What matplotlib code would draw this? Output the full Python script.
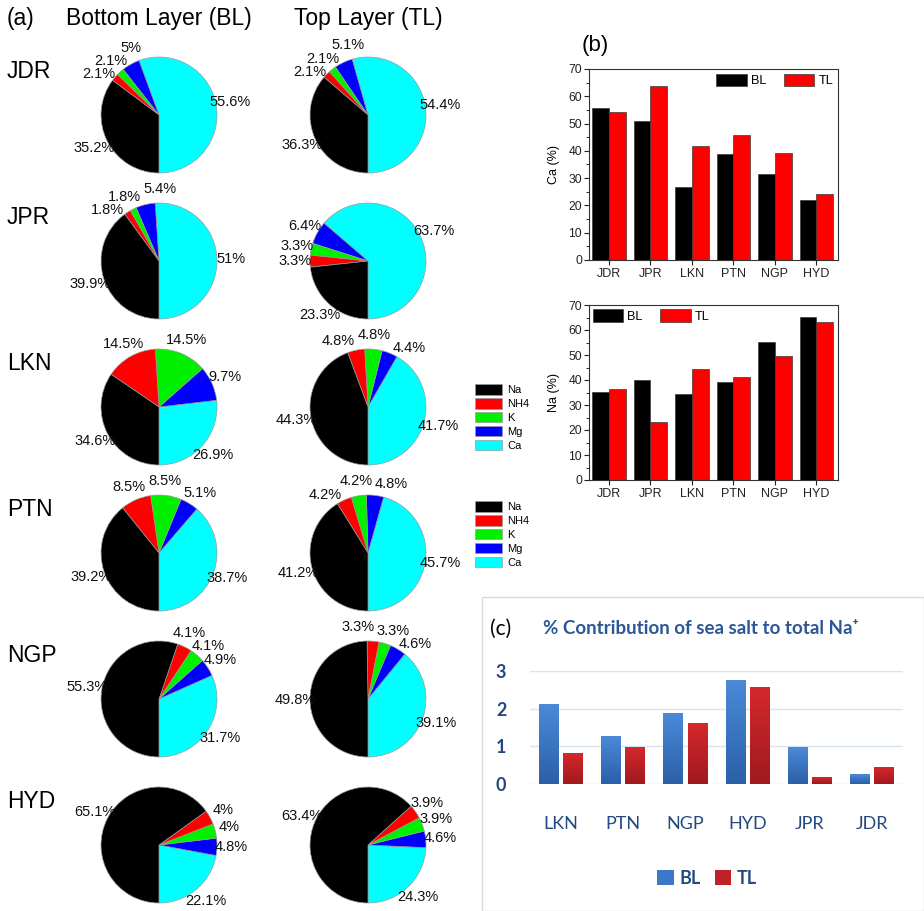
import numpy as np
import matplotlib
matplotlib.use("Agg")
import matplotlib.pyplot as plt
from matplotlib.patches import Patch, Rectangle
from matplotlib.colors import LinearSegmentedColormap

# ---------------- data ----------------
SITES = ["JDR", "JPR", "LKN", "PTN", "NGP", "HYD"]
IONS = ["Na", "NH4", "K", "Mg", "Ca"]
ION_COLORS = {"Na": "#000000", "NH4": "#FF0000", "K": "#00F000",
              "Mg": "#0000FF", "Ca": "#00FFFF"}

# ionic composition (%) of the bottom layer (BL)
BL_NA = [35.2, 39.9, 34.6, 39.2, 55.3, 65.1]
BL_NH4 = [2.1, 1.8, 14.5, 8.5, 4.1, 4.0]
BL_K = [2.1, 1.8, 14.5, 8.5, 4.1, 4.0]
BL_MG = [5.0, 5.4, 9.7, 5.1, 4.9, 4.8]
BL_CA = [55.6, 51.0, 26.9, 38.7, 31.7, 22.1]

# ionic composition (%) of the top layer (TL)
TL_NA = [36.3, 23.3, 44.3, 41.2, 49.8, 63.4]
TL_NH4 = [2.1, 3.3, 4.8, 4.2, 3.3, 3.9]
TL_K = [2.1, 3.3, 4.8, 4.2, 3.3, 3.9]
TL_MG = [5.1, 6.4, 4.4, 4.8, 4.6, 4.6]
TL_CA = [54.4, 63.7, 41.7, 45.7, 39.1, 24.3]

# sea-salt contribution to total Na+ (%)
SS_SITES = ["LKN", "PTN", "NGP", "HYD", "JPR", "JDR"]
SS_BL = [2.10, 1.25, 1.86, 2.76, 0.96, 0.24]
SS_TL = [0.81, 0.96, 1.61, 2.55, 0.17, 0.45]

LAYERS = {
    "BL": {"Na": BL_NA, "NH4": BL_NH4, "K": BL_K, "Mg": BL_MG, "Ca": BL_CA},
    "TL": {"Na": TL_NA, "NH4": TL_NH4, "K": TL_K, "Mg": TL_MG, "Ca": TL_CA},
}

# ---------------- figure ----------------
W, H = 924, 911
plt.rcParams["font.family"] = ["Liberation Sans", "DejaVu Sans"]
fig = plt.figure(figsize=(W / 100, H / 100), dpi=100)


def fx(px):
    return px / W


def fy(py):
    return 1 - py / H


# ---------------- (a) pies ----------------
PIE_R = 58           # pie radius in pixels
PIE_BOX = 3.0        # axes span in radius units
COL_X = {"BL": 159, "TL": 368}
ROW_Y0, ROW_STEP = 115, 146
LABEL_DIST = 1.25
PIE_ORDER = ["Ca", "Mg", "K", "NH4", "Na"]

fig.text(fx(7), fy(19), "(a)", fontsize=16.5, ha="left", va="center")
fig.text(fx(COL_X["BL"]), fy(19), "Bottom Layer (BL)", fontsize=16.5,
         ha="center", va="center")
fig.text(fx(COL_X["TL"]), fy(19), "Top Layer (TL)", fontsize=16.5,
         ha="center", va="center")

pie_jobs = []
for i, site in enumerate(SITES):
    cy = ROW_Y0 + ROW_STEP * i
    fig.text(fx(7), fy(cy - 43), site, fontsize=16.5, ha="left", va="center")
    for layer in ("BL", "TL"):
        cx = COL_X[layer]
        side = PIE_R * PIE_BOX
        ax = fig.add_axes([fx(cx - side / 2), fy(cy + side / 2),
                           side / W, side / H])
        vals = [LAYERS[layer][ion][i] for ion in PIE_ORDER]
        wedges, _ = ax.pie(vals, colors=[ION_COLORS[k] for k in PIE_ORDER],
                           startangle=-90, counterclock=True, radius=1.0,
                           wedgeprops=dict(edgecolor="#9a9a9a", linewidth=0.5))
        ax.set_xlim(-PIE_BOX / 2, PIE_BOX / 2)
        ax.set_ylim(-PIE_BOX / 2, PIE_BOX / 2)
        ax.set_aspect("equal")
        ax.axis("off")
        mids, texts = [], []
        for wdg, v in zip(wedges, vals):
            a = 0.5 * (wdg.theta1 + wdg.theta2)
            mids.append(a)
            t = ax.text(LABEL_DIST * np.cos(np.radians(a)),
                        LABEL_DIST * np.sin(np.radians(a)),
                        f"{v:g}%", ha="center", va="center", fontsize=10.5,
                        color="#111111", clip_on=False)
            texts.append(t)
        pie_jobs.append((ax, texts, mids))

# legends for the ion colours
ion_handles = [Patch(facecolor=ION_COLORS[k], edgecolor="#9a9a9a", linewidth=0.5)
               for k in IONS]
for top in (384, 501):
    fig.legend(ion_handles, IONS, loc="upper left",
               bbox_to_anchor=(fx(475), fy(top)), frameon=False, fontsize=8,
               handlelength=2.45, handleheight=1.1, labelspacing=0.25,
               handletextpad=0.45, borderpad=0, borderaxespad=0)

# ---------------- (b) bar charts ----------------
x = np.arange(len(SITES))
bw = 0.4


def origin_axes(ax, bl, tl, ylabel, legend_loc, anchor):
    ax.bar(x - bw / 2, bl, bw, color="black", edgecolor="#3a3a3a",
           linewidth=0.5, label="BL")
    ax.bar(x + bw / 2, tl, bw, color="#FF0000", edgecolor="#3a3a3a",
           linewidth=0.5, label="TL")
    ax.set_xlim(-0.48, 5.52)
    ax.set_ylim(0, 70)
    ax.set_yticks(np.arange(0, 71, 10))
    ax.set_yticks(np.arange(5, 70, 10), minor=True)
    ax.set_xticks(x)
    ax.set_xticklabels(SITES)
    ax.tick_params(axis="both", which="major", direction="out", length=3.5,
                   width=0.8, labelsize=9, colors="#222222")
    ax.tick_params(axis="y", which="minor", direction="out", length=2, width=0.6)
    ax.tick_params(axis="y", labelsize=8.8, pad=1.5)
    ax.tick_params(axis="x", pad=2)
    for sp in ax.spines.values():
        sp.set_linewidth(0.8)
        sp.set_color("#333333")
    ax.set_ylabel(ylabel, fontsize=9, labelpad=6)
    ax.legend(loc=legend_loc, bbox_to_anchor=anchor, ncol=2, frameon=False,
              fontsize=9.2, handlelength=2.4, handleheight=1.15,
              columnspacing=1.4, handletextpad=0.3, borderaxespad=0,
              borderpad=0)


ax_ca = fig.add_axes([fx(589), fy(260), 249 / W, 191 / H])
origin_axes(ax_ca, BL_CA, TL_CA, "Ca (%)", "upper right", (0.98, 0.975))
ax_na = fig.add_axes([fx(589), fy(480), 249 / W, 175 / H])
origin_axes(ax_na, BL_NA, TL_NA, "Na (%)", "upper left", (0.015, 0.975))
fig.text(fx(582), fy(46), "(b)", fontsize=16, ha="left", va="center")

# ---------------- (c) sea-salt contribution ----------------
NAVY = "#23497F"
fig.add_artist(Rectangle((fx(482), 0), (W - 482) / W, (H - 597) / H,
                         transform=fig.transFigure, facecolor="white",
                         edgecolor="#D9D9D9", linewidth=1.0, zorder=-5))
ax_c = fig.add_axes([fx(530), fy(784), 373 / W, 113 / H])
cw, off = 0.32, 0.195
xc = np.arange(len(SS_SITES))
blue_cm = LinearSegmentedColormap.from_list("b", ["#2C5FA8", "#4A8AD8"])
red_cm = LinearSegmentedColormap.from_list("r", ["#A01A1E", "#D4282C"])
bars_bl = ax_c.bar(xc - off, SS_BL, cw, color="#3B78C8", zorder=2)
bars_tl = ax_c.bar(xc + off, SS_TL, cw, color="#C02126", zorder=2)
grad = np.linspace(0, 1, 64).reshape(-1, 1)
for bars, cm in ((bars_bl, blue_cm), (bars_tl, red_cm)):
    for b in bars:
        ax_c.imshow(grad, extent=(b.get_x(), b.get_x() + b.get_width(), 0,
                                  b.get_height()),
                    origin="lower", aspect="auto", cmap=cm, zorder=3)
ax_c.set_xlim(-0.5, 5.5)
ax_c.set_ylim(0, 3)
ax_c.set_yticks([0, 1, 2, 3])
ax_c.set_xticks(xc)
ax_c.set_xticklabels(SS_SITES)
ax_c.grid(axis="y", color="#D6E3F1", linewidth=1.0, zorder=0)
ax_c.set_axisbelow(True)
for sp in ax_c.spines.values():
    sp.set_visible(False)
ax_c.tick_params(axis="both", length=0)
ax_c.tick_params(axis="y", pad=17)
ax_c.tick_params(axis="x", pad=23)
for lab in ax_c.get_yticklabels() + ax_c.get_xticklabels():
    lab.set_family(["Lato", "DejaVu Sans"])
    lab.set_color(NAVY)
    lab.set_fontsize(13)
for lab in ax_c.get_yticklabels():
    lab.set_fontweight("bold")
fig.text(fx(490), fy(629), "(c)", fontsize=15, ha="left", va="center",
         family=["Lato", "DejaVu Sans"])
fig.text(fx(543), fy(629), "% Contribution of sea salt to total Na\u207a",
         fontsize=13.5, fontweight="bold", color="#2C5796", ha="left",
         va="center", family=["Lato", "DejaVu Sans"])
fig.legend([Patch(facecolor="#3B78C8"), Patch(facecolor="#C02126")],
           ["BL", "TL"], loc="center", bbox_to_anchor=(fx(707), fy(878)),
           ncol=2, frameon=False, handlelength=0.9, handleheight=0.9,
           handletextpad=0.3, columnspacing=0.8,
           prop=dict(family=["Lato", "DejaVu Sans"], size=13, weight="bold"),
           labelcolor=NAVY)

# ---------------- spread crowded pie labels ----------------
fig.canvas.draw()
renderer = fig.canvas.get_renderer()


def spread_labels(ax, texts, angles, dist, step=0.5, iters=1000):
    ext = [t.get_window_extent(renderer) for t in texts]
    half = [(e.width * 0.53, e.height * 0.46) for e in ext]
    ang = np.array(angles, float)
    n = len(ang)
    for _ in range(iters):
        pts = np.c_[dist * np.cos(np.radians(ang)), dist * np.sin(np.radians(ang))]
        xy = ax.transData.transform(pts)
        moved = False
        for i in range(n):
            for j in range(i + 1, n):
                if (abs(xy[i, 0] - xy[j, 0]) < half[i][0] + half[j][0] and
                        abs(xy[i, 1] - xy[j, 1]) < half[i][1] + half[j][1]):
                    lo, hi = (i, j) if ang[i] <= ang[j] else (j, i)
                    ang[lo] -= step
                    ang[hi] += step
                    moved = True
        if not moved:
            break
    for t, a in zip(texts, ang):
        t.set_position((dist * np.cos(np.radians(a)), dist * np.sin(np.radians(a))))


for ax, texts, mids in pie_jobs:
    spread_labels(ax, texts, mids, LABEL_DIST)

fig.savefig("out.png", dpi=100)
